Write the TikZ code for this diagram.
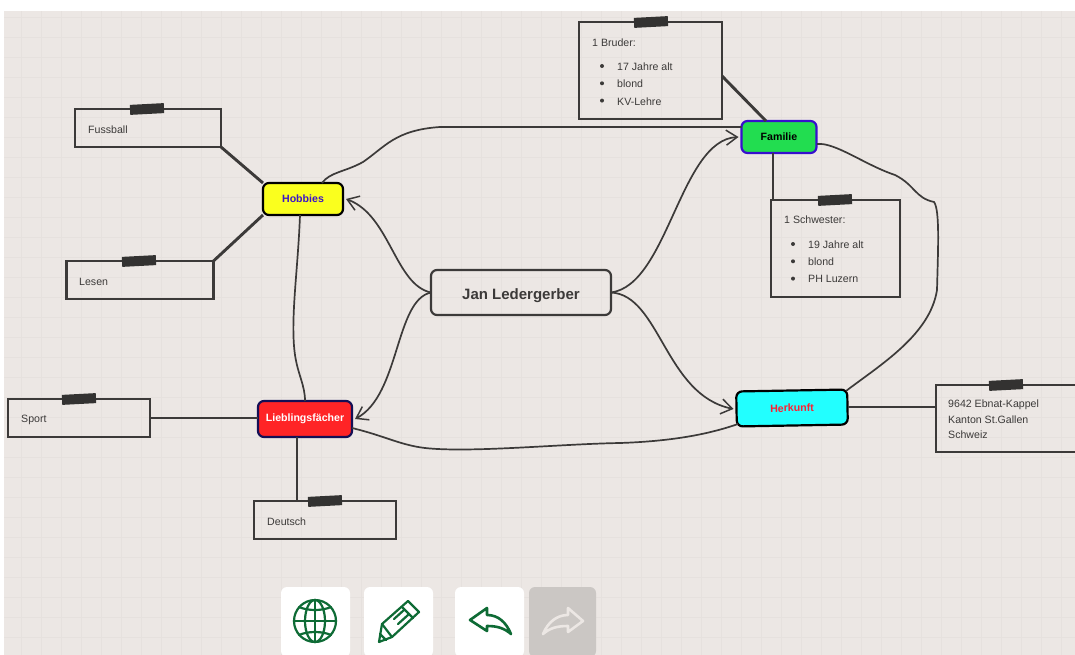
\documentclass[tikz,border=0pt]{standalone}
\usepackage{fontspec}
\setmainfont{Liberation Sans}
\usetikzlibrary{arrows.meta}
\definecolor{paper}{HTML}{ECE7E4}
\definecolor{gridline}{HTML}{E6E1DE}
\definecolor{ink}{HTML}{3C3A39}
\definecolor{tape}{HTML}{333231}
\definecolor{icongreen}{HTML}{0E6B35}
\tikzset{
	topic/.style={draw, line width=2.2pt, rounded corners=6pt, font=\fontsize{10.6}{12}\bfseries, inner sep=0pt, outer sep=0pt},
	note/.style={draw=ink, line width=2.9pt, inner sep=0pt, outer sep=0pt},
	notetext/.style={anchor=west, inner sep=0pt, yshift=-0.8pt, text=ink, font=\fontsize{10.6}{12}\selectfont},
	clip tape/.style={fill=tape, inner sep=0pt, minimum width=34pt, minimum height=10pt, rotate=3},
	twig/.style={draw=ink, line width=2.9pt},
	branch/.style={draw=ink, line width=1.7pt},
	arrowed/.style={branch, -{Straight Barb[length=11pt, width=15pt, line width=1.5pt]}},
	tool/.style={fill=white, rounded corners=6pt},
	icon/.style={draw=icongreen, line width=2.2pt, line join=round, line cap=round}
}
\begin{document}
\begin{tikzpicture}[x=1pt, y=-1pt]
	\useasboundingbox (0,0) rectangle (1075,655);
	\fill[paper] (4,11) rectangle (1075,655);

	% draw grid
	\foreach \s in {1,...,53}
	{
		\draw[gridline, line width=0.5pt] (\s * 20 + 1,11) -- (\s * 20 + 1,655);
	}
	\foreach \s in {1,...,32}
	{
		\draw[gridline, line width=0.5pt] (4,\s * 20 - 3) -- (1075,\s * 20 - 3);
	}

	% draw topics
	\node[topic, draw=ink, minimum width=180pt, minimum height=45pt, text height=15pt, text depth=1pt, font=\fontsize{15}{17}\bfseries, text=ink] (jan) at (521,292.5) {Jan Ledergerber};
	\node[topic, draw=black, fill={rgb,255:red,250;green,255;blue,30}, text={rgb,255:red,60;green,20;blue,200}, minimum width=80pt, minimum height=32pt] (hobbies) at (303,199) {Hobbies};
	\node[topic, draw={rgb,255:red,55;green,15;blue,205}, fill={rgb,255:red,34;green,221;blue,80}, text=black, minimum width=75pt, minimum height=32pt] (familie) at (779,137) {Familie};
	\node[topic, draw={rgb,255:red,20;green,15;blue,85}, fill={rgb,255:red,255;green,36;blue,38}, text=white, minimum width=94pt, minimum height=36pt] (faecher) at (305,419) {Lieblingsfächer};
	\node[topic, draw=black, fill={rgb,255:red,34;green,255;blue,255}, text={rgb,255:red,255;green,30;blue,50}, minimum width=111pt, minimum height=35pt, rotate=1] (herkunft) at (792,408) {Herkunft};

	% draw notes
	\node[note, minimum width=146pt, minimum height=38pt] (fussball) at (148,128) {};
	\node[note, minimum width=147pt, minimum height=38pt] (lesen) at (140,280) {};
	\node[note, minimum width=142pt, minimum height=38pt] (sport) at (79,418) {};
	\node[note, minimum width=142pt, minimum height=38pt] (deutsch) at (325,520) {};
	\node[note, minimum width=143pt, minimum height=97pt] (bruder) at (650.5,70.5) {};
	\node[note, minimum width=129pt, minimum height=97pt] (schwester) at (835.5,248.5) {};
	\node[note, minimum width=150pt, minimum height=67pt] (adresse) at (1011,418.5) {};

	\foreach \n/\x in {fussball/147,lesen/139,sport/79,deutsch/325,bruder/651,schwester/835,adresse/1006}
	{
		\node[clip tape] (tape_\n) at (\x,0 |- \n.north) {};
	}

	% draw note texts
	\node[notetext] (t_fussball) at (88,129) {Fussball};
	\node[notetext] (t_lesen) at (79,281) {Lesen};
	\node[notetext] (t_sport) at (21,419) {Sport};
	\node[notetext] (t_deutsch) at (267,521) {Deutsch};
	\node[notetext] (t_bruder) at (592,42) {1 Bruder:};
	\node[notetext] (t_schwester) at (784,219) {1 Schwester:};
	\foreach \s/\t in {0/17 Jahre alt,1/blond,2/KV-Lehre}
	{
		\fill[ink] (602,66 + \s * 17.3) circle (2pt);
		\node[notetext] (b_\s) at (617,66 + \s * 17.3) {\t};
	}
	\foreach \s/\t in {0/19 Jahre alt,1/blond,2/PH Luzern}
	{
		\fill[ink] (793,244 + \s * 17.3) circle (2pt);
		\node[notetext] (s_\s) at (808,244 + \s * 17.3) {\t};
	}
	\foreach \s/\t in {0/9642 Ebnat-Kappel,1/Kanton St.Gallen,2/Schweiz}
	{
		\node[notetext] (a_\s) at (948,404 + \s * 15) {\t};
	}

	% draw twigs
	\path[twig] (fussball.south east) -- (hobbies.north west);
	\path[twig] (lesen.north east) -- (hobbies.south west);
	\path[twig] (sport.east) -- (sport.east -| faecher.west);
	\path[twig] (297,0 |- deutsch.north) -- (297,0 |- faecher.south);
	\path[twig] (bruder.east |- 0,76) -- (766,0 |- familie.north);
	\path[twig] (773,0 |- familie.south) -- (773,0 |- schwester.north);
	\path[twig] (herkunft.east) -- (herkunft.east -| adresse.west);

	% draw branches
	\draw[arrowed] (jan.west) .. controls (395,285) and (390,215) .. ([xshift=3pt]hobbies.east);
	\draw[arrowed] (jan.west) .. controls (395,300) and (400,395) .. ([xshift=3pt]faecher.east);
	\draw[arrowed] (jan.east) .. controls (668,285) and (680,140) .. ([xshift=-3pt]familie.west);
	\draw[arrowed] (jan.east) .. controls (660,295) and (665,395) .. ([xshift=-3pt]herkunft.west);
	\path[branch] (322,183) .. controls (330,172) and (345,172) .. (363,162)
		.. controls (385,147) and (395,130) .. (440,127) -- (familie.north west |- 0,127);
	\path[branch] (300,215) .. controls (298,270) and (290,320) .. (295,355)
		.. controls (298,375) and (305,385) .. (305,401);
	\path[branch] (352,428) .. controls (385,436) and (400,445) .. (425,448)
		.. controls (470,453) and (560,444) .. (620,443)
		.. controls (680,441) and (715,432) .. (738,424);
	\path[branch] (817,144) .. controls (835,142) and (865,165) .. (895,175)
		.. controls (915,185) and (915,198) .. (934,202)
		.. controls (940,210) and (938,250) .. (937,290)
		.. controls (930,335) and (880,365) .. (846,391);

	% draw toolbar
	\fill[tool] (281,587) rectangle (350,657);
	\fill[tool] (364,587) rectangle (433,657);
	\fill[tool] (455,587) rectangle (524,657);
	\fill[tool, fill={rgb,255:red,203;green,199;blue,196}] (529,587) rectangle (596,657);

	\draw[icon] (315,621) circle (21pt);
	\draw[icon] (315,621) ellipse (10pt and 21pt);
	\draw[icon] (315,600) -- (315,642);
	\draw[icon] (299,607) .. controls (308,611) and (322,611) .. (331,607);
	\draw[icon] (294,621) -- (336,621);
	\draw[icon] (299,635) .. controls (308,631) and (322,631) .. (331,635);

	\draw[icon] (379,642) -- (382,624) -- (408,601) -- (419,612) -- (392,637) -- cycle;
	\draw[icon] (382,624) -- (392,637);
	\draw[icon] (380,634) -- (386,640);
	\draw[icon] (402,607) -- (413,618);
	\draw[icon] (394,619) -- (404,610);
	\draw[icon] (398,624) -- (408,615);

	\draw[icon, line width=2.6pt] (470,620) -- (487,608) -- (487,615) .. controls (498,615) and (506,622) .. (511,634)
		.. controls (504,628) and (497,626) .. (487,626) -- (487,631) -- cycle;
	\draw[icon, draw=paper, line width=2.6pt] (583,621) -- (568,608) -- (568,615) .. controls (557,615) and (548,622) .. (543,634)
		.. controls (550,628) and (557,626) .. (568,626) -- (568,632) -- cycle;
\end{tikzpicture}
\end{document}
